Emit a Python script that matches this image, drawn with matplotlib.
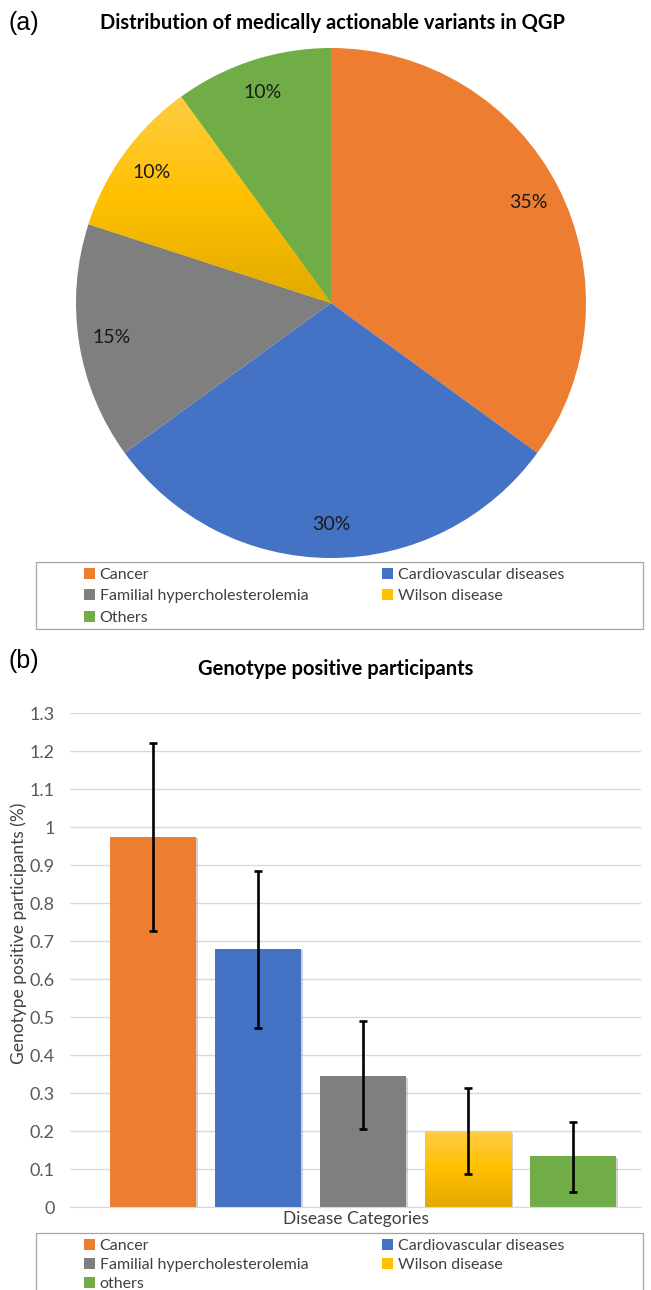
import numpy as np
import matplotlib
matplotlib.use('Agg')
import matplotlib.pyplot as plt
from matplotlib.patches import Rectangle, Patch
from matplotlib.colors import LinearSegmentedColormap
import matplotlib.patheffects as pe

plt.rcParams['font.family'] = ['Lato', 'DejaVu Sans']

# ---- data ----
pie_labels = ['Cancer', 'Cardiovascular diseases', 'Familial hypercholesterolemia',
              'Wilson disease', 'Others']
pie_pct = [35, 30, 15, 10, 10]

bar_labels = ['Cancer', 'Cardiovascular diseases', 'Familial hypercholesterolemia',
              'Wilson disease', 'others']
bar_vals = [0.975, 0.68, 0.345, 0.20, 0.133]
err_low = [0.727, 0.472, 0.205, 0.087, 0.040]
err_high = [1.222, 0.885, 0.490, 0.312, 0.225]
yticks = [0, 0.1, 0.2, 0.3, 0.4, 0.5, 0.6, 0.7, 0.8, 0.9, 1, 1.1, 1.2, 1.3]

colors = ['#ED7D31', '#4472C4', '#7F7F7F', '#FFC000', '#70AD47']
gold = LinearSegmentedColormap.from_list('gold', ['#E2AA00', '#FFC000', '#FFCD45'])

W, H = 651, 1290
fig = plt.figure(figsize=(W / 100, H / 100), dpi=100)

# legend fills column by column; this order gives row-wise reading like Excel
LEG_ORDER = [0, 2, 4, 1, 3]


def px_axes(x0, y0, x1, y1):
    # pixel box (top-left origin) -> figure axes
    return fig.add_axes([x0 / W, 1 - y1 / H, (x1 - x0) / W, (y1 - y0) / H])


def gradient_fill(ax, patch, x0, x1, y0, y1):
    grad = np.linspace(0, 1, 256).reshape(-1, 1)
    im = ax.imshow(grad, cmap=gold, origin='lower', aspect='auto',
                   extent=(x0, x1, y0, y1), zorder=patch.get_zorder() + 0.1)
    im.set_clip_path(patch)


def boxed_legend(labels, top, bottom, anchor_y, spacing):
    fig.patches.append(Rectangle((36 / W, 1 - bottom / H), (643 - 36) / W, (bottom - top) / H,
                                 transform=fig.transFigure, fill=False,
                                 edgecolor='#A6A6A6', lw=0.9))
    hs = [Patch(facecolor=c, edgecolor='none') for c in colors]
    fig.legend([hs[i] for i in LEG_ORDER], [labels[i] for i in LEG_ORDER],
               loc='upper left', bbox_to_anchor=(71 / W, 1 - anchor_y / H),
               ncol=2, frameon=False, fontsize=11.5, handlelength=0.7, handleheight=0.7,
               handletextpad=0.3, columnspacing=4.6, labelspacing=spacing,
               labelcolor='#404040', borderpad=0.3)


# ---- (a) pie ----
cx, cy, r = 331, 303, 255
ax1 = px_axes(cx - r, cy - r, cx + r, cy + r)
wedges, _, autotexts = ax1.pie(pie_pct, colors=colors, startangle=90, counterclock=False,
                               autopct='%1.0f%%', pctdistance=0.87, radius=1,
                               textprops={'fontsize': 14, 'color': '#1A1A1A'})
ax1.set_xlim(-1, 1)
ax1.set_ylim(-1, 1)
ax1.set_aspect('equal')
gradient_fill(ax1, wedges[3], -1, 0, 0, 0.82)
for t in autotexts:
    t.set_zorder(5)

fig.text(9 / W, 1 - 23 / H, '(a)', fontsize=18, va='center', ha='left',
         family=['Liberation Sans', 'DejaVu Sans'])
fig.text(332 / W, 1 - 23 / H, 'Distribution of medically actionable variants in QGP',
         fontsize=14.5, fontweight='bold', ha='center', va='center')

boxed_legend(pie_labels, 562, 629, 555, 0.45)

# ---- (b) bars ----
ax2 = px_axes(70, 713, 641, 1207)
x = np.arange(len(bar_vals))
bars = ax2.bar(x, bar_vals, width=0.82, color=colors, zorder=2)
for b in bars:
    b.set_path_effects([pe.SimplePatchShadow(offset=(1.2, -1.2), shadow_rgbFace='#808080',
                                             alpha=0.35), pe.Normal()])
yb = bars[3]
gradient_fill(ax2, yb, yb.get_x(), yb.get_x() + yb.get_width(), 0, yb.get_height())

yerr = [np.array(bar_vals) - np.array(err_low), np.array(err_high) - np.array(bar_vals)]
ax2.errorbar(x, bar_vals, yerr=yerr, fmt='none', ecolor='black',
             elinewidth=1.9, capsize=2.6, capthick=1.9, zorder=4)
ax2.set_xlim(-(153 - 70) / 105, (641 - 153) / 105)
ax2.set_ylim(0, 1.3)
ax2.set_yticks(yticks)
ax2.set_yticklabels([f'{v:g}' for v in yticks])
ax2.tick_params(axis='y', length=0, labelsize=13, labelcolor='#595959', pad=11)
ax2.set_xticks([])
ax2.grid(axis='y', color='#D9D9D9', lw=1.0, zorder=0)
ax2.set_axisbelow(True)
for s in ['top', 'right', 'left']:
    ax2.spines[s].set_visible(False)
ax2.spines['bottom'].set_color('#D9D9D9')
ax2.set_ylabel('Genotype positive participants (%)', fontsize=12.5, color='#404040')
ax2.yaxis.set_label_coords((27 - 70) / 571, 1 - (933 - 713) / 494)
ax2.set_xlabel('Disease Categories', fontsize=12.5, color='#404040', labelpad=3)

fig.text(9 / W, 1 - 661 / H, '(b)', fontsize=18, va='center', ha='left',
         family=['Liberation Sans', 'DejaVu Sans'])
fig.text(336 / W, 1 - 669 / H, 'Genotype positive participants',
         fontsize=14.5, fontweight='bold', ha='center', va='center')

boxed_legend(bar_labels, 1233, 1297, 1226, 0.3)

fig.savefig('out.png', dpi=100)
